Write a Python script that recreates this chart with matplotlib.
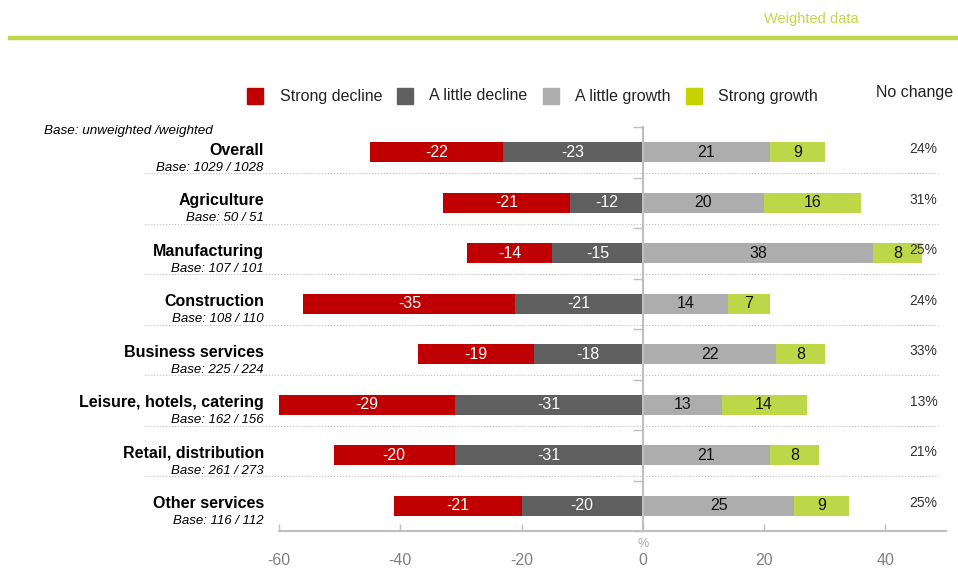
import matplotlib
matplotlib.use('Agg')
import matplotlib.pyplot as plt
from matplotlib.patches import Rectangle
from matplotlib.lines import Line2D

plt.rcParams['font.family'] = ['Liberation Sans', 'DejaVu Sans']
plt.rcParams['axes.unicode_minus'] = False

categories = ['Overall', 'Agriculture', 'Manufacturing', 'Construction',
              'Business services', 'Leisure, hotels, catering',
              'Retail, distribution', 'Other services']
bases = ['1029 / 1028', '50 / 51', '107 / 101', '108 / 110',
         '225 / 224', '162 / 156', '261 / 273', '116 / 112']
strong_decline = [-22, -21, -14, -35, -19, -29, -20, -21]
little_decline = [-23, -12, -15, -21, -18, -31, -31, -20]
little_growth = [21, 20, 38, 14, 22, 13, 21, 25]
strong_growth = [9, 16, 8, 7, 8, 14, 8, 9]
no_change = [24, 31, 25, 24, 33, 13, 21, 25]

series_names = ['Strong decline', 'A little decline', 'A little growth', 'Strong growth']
C_SD = '#C00000'
C_LD = '#5F5F5F'
C_LG = '#ADADAD'
C_SG = '#BDD748'
C_SG_LEG = '#C5D300'
C_GREEN = '#BFD84A'
C_AXIS = '#BFBFBF'

W, H = 958, 571
fig = plt.figure(figsize=(W / 100, H / 100), dpi=100)
ax = fig.add_axes([279 / W, 1 - 531 / H, (946 - 279) / W, (531 - 127) / H])

ys = list(range(len(categories)))
bh = 0.40
# declines: little decline starts at 0, strong decline further left
ax.barh(ys, little_decline, height=bh, color=C_LD, zorder=3)
ax.barh(ys, strong_decline, left=little_decline, height=bh, color=C_SD, zorder=3)
ax.barh(ys, little_growth, height=bh, color=C_LG, zorder=3)
ax.barh(ys, strong_growth, left=little_growth, height=bh, color=C_SG, zorder=3)

for i, y in enumerate(ys):
    ld, sd = little_decline[i], strong_decline[i]
    lg, sg = little_growth[i], strong_growth[i]
    ax.text(ld + sd / 2, y, f'{sd}', ha='center', va='center', color='white', fontsize=11.5, zorder=4)
    ax.text(ld / 2, y, f'{ld}', ha='center', va='center', color='white', fontsize=11.5, zorder=4)
    ax.text(lg / 2, y, f'{lg}', ha='center', va='center', color='#111111', fontsize=11.5, zorder=4)
    ax.text(lg + sg / 2, y, f'{sg}', ha='center', va='center', color='#111111', fontsize=11.5, zorder=4)
    ax.text(46.3, y - 0.06, f'{no_change[i]}%', ha='center', va='center', color='#333333',
            fontsize=10, zorder=5, clip_on=False)
    # category labels
    ax.text(-62.5, y - 0.04, categories[i], ha='right', va='center', fontsize=11.5,
            fontweight='bold', clip_on=False)
    ax.text(-62.5, y + 0.31, f'Base: {bases[i]}', ha='right', va='center', fontsize=9.5,
            style='italic', clip_on=False)

# dotted separators between rows
for b in range(len(categories) - 1):
    ax.plot([-82.1, 48.7], [b + 0.42, b + 0.42], color=C_AXIS, linestyle=':', linewidth=0.8,
            clip_on=False, zorder=1)

ax.set_xlim(-60, 50)
ax.set_ylim(len(categories) - 0.5, -0.5)
ax.set_xticks([-60, -40, -20, 0, 20, 40])
ax.set_yticks([b - 0.5 for b in range(len(categories) + 1)])
ax.set_yticklabels([])
ax.spines['left'].set_position(('data', 0))
ax.spines['top'].set_visible(False)
ax.spines['right'].set_visible(False)
for s in ('left', 'bottom'):
    ax.spines[s].set_color(C_AXIS)
    ax.spines[s].set_linewidth(1.5)
    ax.spines[s].set_zorder(5)
ax.tick_params(axis='x', direction='in', length=5, width=1, color=C_AXIS,
               labelcolor='#808080', labelsize=11.5, pad=16)
ax.tick_params(axis='y', direction='out', length=7, width=1, color=C_AXIS)
ax.text(0, 7.75, '%', ha='center', va='center', color='#A6A6A6', fontsize=9,
        clip_on=False)

# header
fig.text(811 / W, 1 - 19 / H, 'Weighted data', ha='center', va='center', color=C_GREEN, fontsize=10.5)
fig.add_artist(Line2D([10 / W, 1], [1 - 38 / H, 1 - 38 / H], color=C_GREEN, linewidth=3.2))
fig.text(44 / W, 1 - 131 / H, 'Base: unweighted /weighted', ha='left', va='center',
         fontsize=9.7, style='italic')

# legend
leg_x = [247, 397, 543, 686]
txt_x = [280, 429, 575, 718]
leg_cols = [C_SD, C_LD, C_LG, C_SG_LEG]
for sx, tx, col, name in zip(leg_x, txt_x, leg_cols, series_names):
    fig.add_artist(Rectangle((sx / W, 1 - 104 / H), 16 / W, 16 / H, color=col,
                             transform=fig.transFigure))
    fig.text(tx / W, 1 - 96 / H, name, ha='left', va='center', fontsize=11.5, color='#222222')
fig.text(876 / W, 1 - 92 / H, 'No change', ha='left', va='center', fontsize=11.5, color='#222222')

fig.savefig('out.png', dpi=100)
